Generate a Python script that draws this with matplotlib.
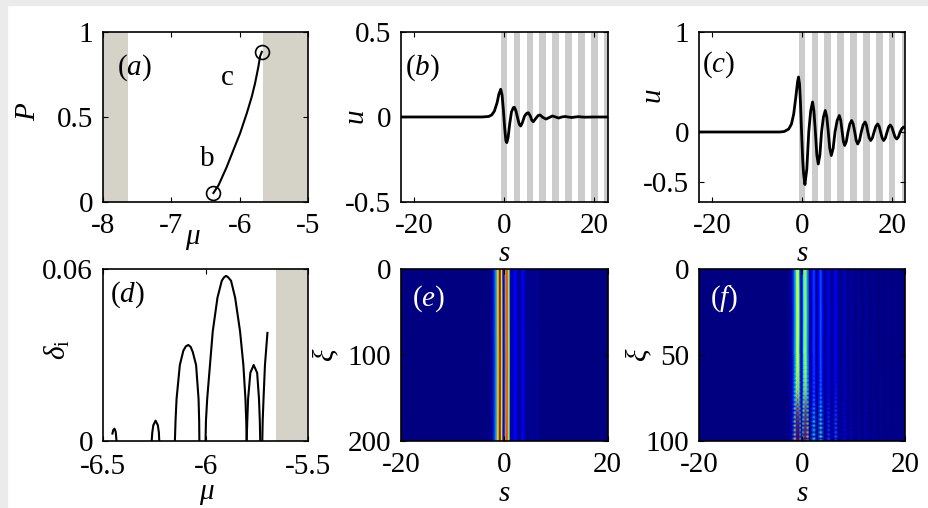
import numpy as np
import matplotlib.pyplot as plt
from matplotlib.patches import Rectangle

plt.rcParams['font.family'] = 'Liberation Serif'
plt.rcParams['mathtext.fontset'] = 'custom'
plt.rcParams['mathtext.rm'] = 'Liberation Serif'
plt.rcParams['mathtext.it'] = 'Liberation Serif:italic'
plt.rcParams['font.size'] = 21
plt.rcParams['axes.unicode_minus'] = False

# (a) power P vs mu along the family
mu_a = [-6.385, -6.31, -6.19, -6.094, -5.996, -5.898, -5.825, -5.777, -5.728, -5.704, -5.679]
P_a = [0.053, 0.099, 0.207, 0.305, 0.404, 0.522, 0.62, 0.699, 0.798, 0.857, 0.883]
gap_left = (-8, -7.63)
gap_right = (-5.655, -5)

# (b) profile of soliton b
s_b = [-23, -5, -3.5, -2.8, -2.2, -1.6, -1.2, -0.8, -0.5, -0.2, 0.1, 0.35, 0.55, 0.85, 1.2, 1.6,
       2.0, 2.25, 2.6, 3.0, 3.35, 3.65, 4.0, 4.5, 5.0, 5.35, 5.8, 6.1, 6.45, 6.9, 7.5, 7.95, 8.6,
       9.3, 10.0, 10.7, 11.4, 12.1, 12.8, 13.5, 14.2, 15.0, 15.8, 16.5, 17.2, 18.0, 20.0, 23.0]
u_b = [0, 0, 0.003, 0.012, 0.035, 0.085, 0.135, 0.163, 0.13, 0.04, -0.07, -0.14, -0.151, -0.12,
       -0.04, 0.03, 0.055, 0.057, 0.035, -0.01, -0.045, -0.053, -0.035, 0.005, 0.022, 0.025, 0.005,
       -0.018, -0.028, -0.012, 0.008, 0.012, -0.003, -0.012, -0.003, 0.006, 0.0, -0.006, 0.0,
       0.003, 0.0, -0.003, 0.0, 0.002, 0.0, -0.001, 0, 0]

# (c) profile of soliton c
s_c = [-23, -5, -4, -3, -2.4, -1.9, -1.4, -1.05, -0.83, -0.6, -0.4, -0.15, 0.1, 0.3, 0.6, 1.02,
       1.45, 1.88, 2.3, 2.6, 2.93, 3.25, 3.57, 3.93, 4.3, 4.72, 5.13, 5.47, 5.8, 6.13, 6.47, 6.88,
       7.3, 7.78, 8.26, 8.58, 8.9, 9.17, 9.45, 9.82, 10.2, 10.6, 11.0, 11.35, 11.7, 12.02, 12.35,
       12.75, 13.15, 13.57, 14.0, 14.3, 14.6, 14.92, 15.25, 15.62, 16.0, 16.4, 16.8, 17.12, 17.45,
       17.8, 18.15, 18.52, 18.9, 19.25, 19.6, 19.95, 20.3, 20.67, 21.05, 21.42, 21.8, 22.2, 22.6, 23.0]
u_c = [0, 0, 0.005, 0.03, 0.08, 0.18, 0.36, 0.5, 0.55, 0.48, 0.3, 0.0, -0.28, -0.42, -0.525, -0.37,
       0.0, 0.21, 0.30, 0.21, 0.0, -0.23, -0.32, -0.23, 0.0, 0.15, 0.215, 0.15, 0.0, -0.165, -0.235,
       -0.165, 0.0, 0.115, 0.165, 0.115, 0.0, -0.095, -0.135, -0.095, 0.0, 0.08, 0.115, 0.08, 0.0,
       -0.085, -0.12, -0.085, 0.0, 0.07, 0.1, 0.07, 0.0, -0.06, -0.085, -0.06, 0.0, 0.057, 0.08,
       0.057, 0.0, -0.06, -0.085, -0.06, 0.0, 0.05, 0.07, 0.05, 0.0, -0.05, -0.07, -0.05, 0.0,
       0.035, 0.05, 0.035]

# lattice channels (grey stripes)
stripe_start = [-0.8, 2.07, 4.95, 7.82, 10.7, 13.57, 16.45, 19.32, 22.2]
stripe_width = 1.45

# (d) instability growth rate branches
d_branches = [
    ([-6.453, -6.449, -6.443, -6.437, -6.433], [0.0026, 0.0038, 0.0043, 0.0032, 0.0]),
    ([-6.262, -6.259, -6.254, -6.243, -6.232, -6.227, -6.225], [0, 0.003, 0.0055, 0.0071, 0.0055, 0.003, 0]),
    ([-6.149, -6.146, -6.141, -6.125, -6.108, -6.096, -6.084, -6.072, -6.062, -6.046, -6.034, -6.031, -6.030],
     [0, 0.007, 0.0147, 0.0265, 0.0315, 0.033, 0.0335, 0.0328, 0.031, 0.0265, 0.0147, 0.007, 0]),
    ([-6.0, -5.998, -5.992, -5.965, -5.942, -5.921, -5.91, -5.90, -5.89, -5.876, -5.856, -5.832, -5.816,
      -5.806, -5.802, -5.80],
     [0, 0.007, 0.0147, 0.0382, 0.05, 0.0559, 0.0571, 0.0576, 0.0571, 0.0559, 0.05, 0.0382, 0.0265,
      0.0147, 0.007, 0]),
    ([-5.800, -5.797, -5.793, -5.782, -5.766, -5.749, -5.740, -5.736, -5.734],
     [0, 0.007, 0.0147, 0.0238, 0.0265, 0.0238, 0.0147, 0.007, 0]),
    ([-5.724, -5.722, -5.718, -5.711, -5.699], [0, 0.007, 0.0147, 0.0265, 0.0377]),
]

# (f) breathing of the unstable soliton along xi
xi_f = [0, 50] + list(np.arange(51.25, 100.01, 1.25))
mod_f = [0, 0, 0.01, -0.015, 0.02, -0.025, 0.03, -0.035, 0.04, -0.05, 0.06, -0.07, 0.08, -0.09,
         0.1, -0.11, 0.12, -0.13, 0.14, -0.16, 0.18, -0.2, 0.22, -0.24, 0.26, -0.28, 0.3, -0.32,
         0.34, -0.36, 0.38, -0.4, 0.42, -0.43, 0.44, -0.45, 0.46, -0.47, 0.48, -0.49, 0.5, -0.5]

shade = '#d5d2c8'
stripe = '#cccccc'

fig = plt.figure(figsize=(9.29, 5.08), dpi=100)
fig.add_artist(Rectangle((0, 1 - 5 / 508), 1, 5 / 508, transform=fig.transFigure, color='#ebebeb', zorder=-5))
fig.add_artist(Rectangle((0, 0), 7 / 929, 1, transform=fig.transFigure, color='#ebebeb', zorder=-5))

lefts = [0.1106, 0.4316, 0.7524]
ax_a = fig.add_axes([lefts[0], 0.6024, 0.2213, 0.3346])
ax_b = fig.add_axes([lefts[1], 0.6024, 0.2225, 0.3346])
ax_c = fig.add_axes([lefts[2], 0.6024, 0.2223, 0.3346])
ax_d = fig.add_axes([lefts[0], 0.1319, 0.2213, 0.3386])
ax_e = fig.add_axes([lefts[1], 0.1319, 0.2225, 0.3386])
ax_f = fig.add_axes([lefts[2], 0.1319, 0.2223, 0.3386])

for ax in [ax_a, ax_b, ax_c, ax_d, ax_e, ax_f]:
    ax.tick_params(direction='in', top=True, right=True, length=3.5, width=0.8, labelsize=21)
    ax.tick_params(axis='x', pad=8)
    ax.tick_params(axis='y', pad=7)
    for sp in ax.spines.values():
        sp.set_linewidth(1.2)
ax_d.tick_params(axis='x', pad=9.5)


def panel_label(ax, txt, x, y, color='k'):
    ax.text(x, y, r'$(\mathit{' + txt + '})$', transform=ax.transAxes, va='center', ha='left',
            color=color, fontsize=21)


# (a)
ax_a.axvspan(*gap_left, color=shade, lw=0)
ax_a.axvspan(*gap_right, color=shade, lw=0)
ax_a.plot(mu_a, P_a, color='k', lw=1.5)
ax_a.plot([mu_a[0], mu_a[-1]], [P_a[0], P_a[-1]], 'o', mfc='none', mec='k', ms=10, mew=1.2)
ax_a.text(-6.48, 0.25, 'b', ha='center', va='center')
ax_a.text(-6.175, 0.73, 'c', ha='center', va='center')
ax_a.set_xlim(-8, -5)
ax_a.set_ylim(0, 1)
ax_a.set_xticks([-8, -7, -6, -5])
ax_a.set_xticklabels(['-8', '-7', '-6', '-5'])
ax_a.set_yticks([0, 0.5, 1])
ax_a.set_yticklabels(['0', '0.5', '1'])
ax_a.set_ylabel(r'$P$')
ax_a.yaxis.set_label_coords(-0.3, 0.53)
ax_a.set_xlabel(r'$\mu$', va='baseline')
ax_a.xaxis.set_label_coords(0.44, -0.25)
panel_label(ax_a, 'a', 0.07, 0.79)

# (b) and (c)
for ax, s, u, ylim, yt, ytl in [(ax_b, s_b, u_b, (-0.5, 0.5), [-0.5, 0, 0.5], ['-0.5', '0', '0.5']),
                                (ax_c, s_c, u_c, (-0.7, 1), [-0.5, 0, 1], ['-0.5', '0', '1'])]:
    for x0 in stripe_start:
        ax.axvspan(x0, x0 + stripe_width, color=stripe, lw=0)
    ax.plot(s, u, color='k', lw=2.0)
    ax.set_xlim(-23, 23)
    ax.set_ylim(*ylim)
    ax.set_xticks([-20, 0, 20])
    ax.set_xticklabels(['-20', '0', '20'])
    ax.set_yticks(yt)
    ax.set_yticklabels(ytl)
    ax.set_ylabel(r'$u$')
    ax.set_xlabel(r'$s$', va='baseline')
    ax.xaxis.set_label_coords(0.5, -0.345)
ax_b.yaxis.set_label_coords(-0.15, 0.5)
ax_c.yaxis.set_label_coords(-0.155, 0.62)
panel_label(ax_b, 'b', 0.02, 0.79)
panel_label(ax_c, 'c', 0.015, 0.81)

# (d)
ax_d.axvspan(-5.655, -5.5, color=shade, lw=0)
for mu, d in d_branches:
    ax_d.plot(mu, d, color='k', lw=1.5)
ax_d.set_xlim(-6.5, -5.5)
ax_d.set_ylim(0, 0.06)
ax_d.set_xticks([-6.5, -6, -5.5])
ax_d.set_xticklabels(['-6.5', '-6', '-5.5'])
ax_d.set_yticks([0, 0.06])
ax_d.set_yticklabels(['0', '0.06'])
ax_d.set_ylabel(r'$\delta_{\mathrm{i}}$')
ax_d.yaxis.set_label_coords(-0.15, 0.53)
ax_d.set_xlabel(r'$\mu$', va='baseline')
ax_d.xaxis.set_label_coords(0.507, -0.335)
panel_label(ax_d, 'd', 0.035, 0.85)

# (e) stable propagation of b
S, Z = np.meshgrid(s_b, [0, 200])
I_e = np.tile(np.array(u_b) ** 2, (2, 1))
ax_e.pcolormesh(S, Z, I_e, cmap='jet', shading='gouraud', vmin=0, vmax=max(I_e[0]))
ax_e.set_xlim(-20, 20)
ax_e.set_ylim(200, 0)
ax_e.set_yticks([0, 100, 200])
ax_e.set_yticklabels(['0', '100', '200'])
ax_e.yaxis.set_label_coords(-0.29, 0.52)
panel_label(ax_e, 'e', 0.053, 0.83, color='w')

# (f) unstable propagation of c
S, Z = np.meshgrid(s_c, xi_f)
U = np.array(u_c)[None, :]
M = np.array(mod_f)[:, None]
I_f = (U + M * np.abs(U)) ** 2
ax_f.pcolormesh(S, Z, I_f, cmap='jet', shading='gouraud', vmin=0, vmax=0.48)
ax_f.set_xlim(-20, 20)
ax_f.set_ylim(100, 0)
ax_f.set_yticks([0, 50, 100])
ax_f.set_yticklabels(['0', '50', '100'])
ax_f.yaxis.set_label_coords(-0.22, 0.53)
panel_label(ax_f, 'f', 0.053, 0.83, color='w')

for ax in [ax_e, ax_f]:
    ax.set_xticks([-20, 0, 20])
    ax.set_xticklabels(['-20', '0', '20'])
    ax.set_ylabel(r'$\xi$')
    ax.set_xlabel(r'$s$', va='baseline')
    ax.xaxis.set_label_coords(0.5, -0.35)

fig.savefig('out.png', dpi=100)
